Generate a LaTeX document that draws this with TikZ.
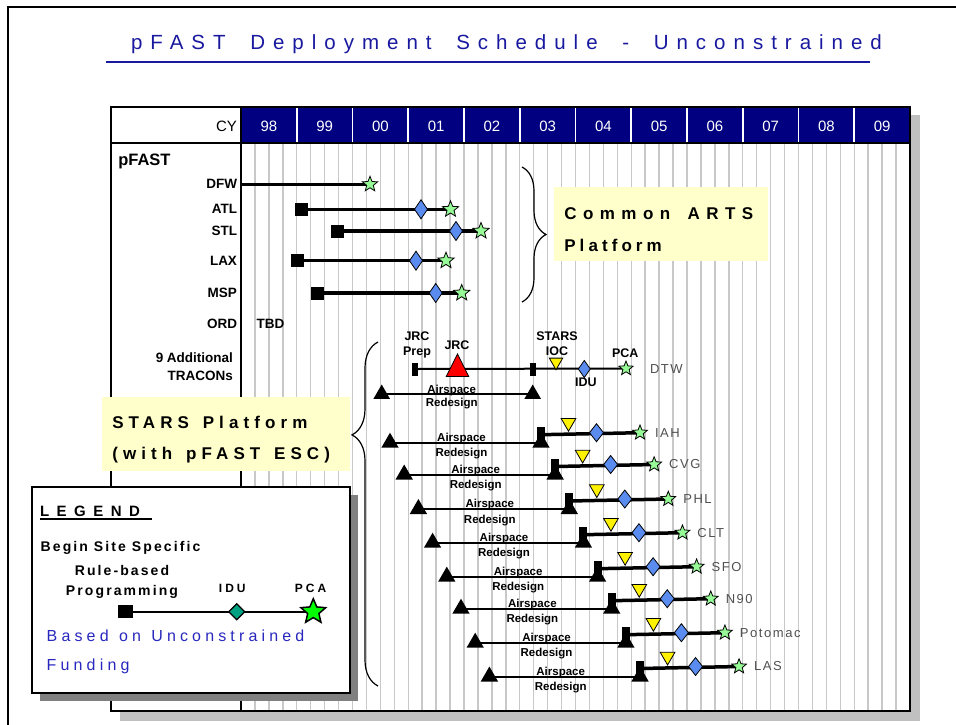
\documentclass[tikz,border=0pt]{standalone}
\usepackage{fontspec}
\setmainfont{Liberation Sans}
\newfontfamily\ttlfont[LetterSpace=39,WordSpace=1.8]{Liberation Sans}
\newfontfamily\boxfont[LetterSpace=30,WordSpace=1.4]{Liberation Sans}
\newfontfamily\artsfont[LetterSpace=38,WordSpace=1.55]{Liberation Sans}
\newfontfamily\artsfontb[LetterSpace=24]{Liberation Sans}
\newfontfamily\legfont[LetterSpace=50]{Liberation Sans}
\newfontfamily\smallls[LetterSpace=12]{Liberation Sans}
\newfontfamily\legls[LetterSpace=15]{Liberation Sans}
\newfontfamily\midls[LetterSpace=26,WordSpace=1.2]{Liberation Sans}
\newfontfamily\pcals[LetterSpace=25]{Liberation Sans}
\usetikzlibrary{shapes.geometric,decorations.pathreplacing}
\newcommand\fsz[1]{\fontsize{#1}{#1}\selectfont}
\definecolor{navyhdr}{RGB}{0,0,128}
\definecolor{titleblue}{RGB}{25,25,160}
\definecolor{gridgray}{RGB}{200,200,200}
\definecolor{shadowgray}{RGB}{192,192,192}
\definecolor{leggray}{RGB}{128,128,128}
\definecolor{boxyellow}{RGB}{255,255,204}
\definecolor{diablue}{RGB}{90,140,240}
\definecolor{stargreen}{RGB}{150,250,150}
\definecolor{legteal}{RGB}{0,160,130}
\definecolor{leggreen}{RGB}{0,255,0}
\definecolor{fundblue}{RGB}{40,40,190}
\definecolor{sitegray}{RGB}{80,80,80}
\pgfdeclarelayer{bg}
\pgfdeclarelayer{mid}
\pgfsetlayers{bg,mid,main}
\begin{document}
\begin{tikzpicture}[x=1pt,y=-1pt,
  every node/.style={inner sep=0pt, outer sep=0pt},
  lbl/.style={font=\bfseries\fsz{13.5}, anchor=east},
  sqr/.style={rectangle, fill=black, minimum width=13pt, minimum height=13pt},
  dia/.style={diamond, fill=diablue, draw=black, line width=0.8pt, minimum width=14pt, minimum height=18pt},
  stargn/.style={star, star points=5, star point ratio=2.3, fill=stargreen, draw=black, line width=0.8pt, minimum size=16pt},
  blktri/.style={regular polygon, regular polygon sides=3, fill=black, minimum size=20pt},
  yeltri/.style={regular polygon, regular polygon sides=3, regular polygon rotate=180, fill=yellow, draw=black, line width=0.8pt, minimum size=17pt},
  blkbar/.style={rectangle, fill=black, minimum width=8pt, minimum height=16pt},
  thickbar/.style={line width=3.5pt},
  thinbar/.style={line width=2pt},
  airtxt/.style={font=\bfseries\fsz{11.5}, anchor=base},
  sitelbl/.style={font=\smallls\fsz{13}, text=sitegray, anchor=west},
  mlbl/.style={font=\bfseries\fontsize{12.5}{15}\selectfont, align=center},
  yeartxt/.style={font=\fsz{15}, text=white},
  boxtxt/.style={font=\boxfont\bfseries\fsz{17}, anchor=base west},
  legtxt/.style={font=\legls\bfseries\fsz{14}},
  bracestyle/.style={decorate, line width=1.2pt},
]
\useasboundingbox (0,0) rectangle (956,724);
\begin{pgfonlayer}{bg}
\fill[white] (0,0) rectangle (956,724);
\draw[line width=2pt] (960,7) -- (7.7,7) -- (7.7,730);
\fill[shadowgray] (120,115) rectangle (920,721);
\fill[white] (111,107) rectangle (910,711);
\fill[navyhdr] (241,107) rectangle (910,143);
\foreach \k in {1,...,47} \draw[gridgray, line width=1.4pt] ({241+\k*13.9375},143) -- ({241+\k*13.9375},711);
\foreach \k in {1,...,11} \draw[white, line width=1.6pt] ({241+\k*55.75},107) -- ({241+\k*55.75},143);
\draw[line width=2pt] (111,107) rectangle (910,711);
\draw[line width=2pt] (111,143) -- (910,143) (241,107) -- (241,711);
\fill[boxyellow] (554,187) rectangle (768,261);
\fill[boxyellow] (102,397) rectangle (350,471);
\fill[leggray] (40,495) rectangle (358,701);
\draw[line width=2pt, fill=white] (32,487) rectangle (350,693);
\end{pgfonlayer}

% title
\node[font=\ttlfont\fsz{20.5}, text=titleblue, anchor=base west] (title) at (131,49) {pFAST Deployment Schedule - Unconstrained};
\draw[titleblue, line width=2.5pt] (106,62) -- (869.5,62);

% header
\node[font=\fsz{15}, anchor=east] (cy) at (237,126.5) {CY};
\foreach \k/\yr in {0/98,1/99,2/00,3/01,4/02,5/03,6/04,7/05,8/06,9/07,10/08,11/09}
  \node[yeartxt] (yr\k) at ({241+\k*55.75+27.9},126.5) {\yr};

% left labels
\node[font=\bfseries\fsz{16.5}, anchor=west] (pfast) at (118.3,161) {pFAST};
\node[lbl] (ldfw) at (237,184.3) {DFW};
\node[lbl] (latl) at (237,209.3) {ATL};
\node[lbl] (lstl) at (237,231) {STL};
\node[lbl] (llax) at (237,260.7) {LAX};
\node[lbl] (lmsp) at (237,292.5) {MSP};
\node[lbl] (lord) at (237,324) {ORD};
\node[font=\bfseries\fsz{13.5}, anchor=west] (tbd) at (256.7,324) {TBD};
\node[font=\bfseries\fontsize{13.5}{17.7}\selectfont, align=right, anchor=east] (ltracon) at (233,367) {9 Additional\\TRACONs};

% Common ARTS rows
\coordinate (dfwstart) at (242,184.3);
\node[stargn] (dfwpca) at (370,184.3) {};
\node[sqr] (atlbeg) at (301.7,209.3) {};
\node[dia, minimum width=13pt, minimum height=19pt] (atlidu) at (421,209.3) {};
\node[stargn, minimum size=17pt] (atlpca) at (450.5,209.3) {};
\node[sqr] (stlbeg) at (337.7,231) {};
\node[dia, minimum width=13pt, minimum height=19pt] (stlidu) at (456,231) {};
\node[stargn, minimum size=17pt] (stlpca) at (481,231) {};
\node[sqr] (laxbeg) at (297.7,260.7) {};
\node[dia, minimum width=13pt, minimum height=19pt] (laxidu) at (416,260.7) {};
\node[stargn, minimum size=17pt] (laxpca) at (446,260.7) {};
\node[sqr] (mspbeg) at (317.7,293) {};
\node[dia, minimum width=13pt, minimum height=19pt] (mspidu) at (435.7,293) {};
\node[stargn, minimum size=17pt] (msppca) at (461.7,293) {};
\begin{pgfonlayer}{mid}
\draw[line width=3.2pt] (dfwstart) -- (dfwpca.center);
\draw[line width=3.2pt] (atlbeg.center) -- (atlpca.center);
\draw[line width=3.2pt] (stlbeg.center) -- (stlpca.center);
\draw[line width=3.2pt] (laxbeg.center) -- (laxpca.center);
\draw[line width=3.2pt] (mspbeg.center) -- (msppca.center);
\end{pgfonlayer}

% brace 1 and box
\draw[bracestyle, decoration={brace, amplitude=24pt}] (522,167) -- (522,302);
\node[font=\artsfont\bfseries\fsz{17}, anchor=base west] (arts1) at (564.3,219) {Common ARTS};
\node[font=\artsfontb\bfseries\fsz{17}, anchor=base west] (arts2) at (564.3,251.3) {Platform};

% brace 2 and STARS box
\draw[bracestyle, decoration={brace, amplitude=26pt, mirror, aspect=0.27}] (378,342) -- (378,686);
\node[boxtxt] (stars1) at (112.3,428) {STARS Platform};
\node[boxtxt] (stars2) at (112.3,459) {(with pFAST ESC)};

% DTW
\node[rectangle, fill=black, minimum width=6pt, minimum height=13pt] (jrcprep) at (415,369) {};
\node[rectangle, fill=black, minimum width=6pt, minimum height=13pt] (jrcend) at (533,369) {};
\node[regular polygon, regular polygon sides=3, fill=red, draw=black, line width=0.8pt, minimum size=26pt, yscale=1.15] (jrc) at (457.5,369) {};
\node[yeltri, minimum size=15.5pt] (ioc) at (556,362) {};
\node[dia, minimum width=12pt, minimum height=17pt] (dtwidu) at (584.3,369) {};
\node[stargn, minimum size=15pt] (dtwpca) at (626,368.5) {};
\node[sitelbl] (dtw) at (650,369) {DTW};
\node[mlbl] (lprep) at (417,345) {JRC\\Prep};
\node[mlbl] (ljrc) at (457,345) {JRC};
\node[mlbl] (lioc) at (557,343.7) {STARS\\IOC};
\node[mlbl] (lidu) at (586,382) {IDU};
\node[mlbl] (lpca) at (625.3,352.7) {PCA};
\node[blktri, minimum size=19pt] (dtwal) at (381.7,394) {};
\node[blktri, minimum size=19pt] (dtwar) at (532.7,394) {};
\node[airtxt] (dtwair) at (451.7,393) {Airspace};
\node[airtxt] (dtwred) at (451.7,406.7) {Redesign};
\begin{pgfonlayer}{mid}
\draw[thinbar] (jrcprep.center) -- (dtwpca.center);
\draw[thinbar] (dtwal.center) -- (dtwar.center);
\end{pgfonlayer}

% STARS rows
\foreach \i/\ty/\lab in {0/432.7/IAH,1/464.5/CVG,2/499/PHL,3/532.7/CLT,4/566.7/SFO,5/598.7/N90,6/632.7/Potomac,7/666.5/LAS} {
  \pgfmathsetmacro\rx{541+14.15*\i}
  \pgfmathsetmacro\lx{390+14.2*\i}
  \pgfmathsetmacro\ly{\ty+10}
  \pgfmathsetmacro\mx{(\rx+\lx)/2-4}
  \node[blktri] (al\i) at (\lx,\ly) {};
  \node[blktri] (ar\i) at (\rx,\ly) {};
  \node[blkbar] (rb\i) at (\rx,\ty+2) {};
  \node[yeltri] (yt\i) at (\rx+27.5,\ty-10) {};
  \node[dia] (di\i) at (\rx+55.5,\ty) {};
  \node[stargn, minimum size=15.5pt] (sp\i) at (\rx+99,\ty) {};
  \node[sitelbl] (sl\i) at (\rx+114,\ty) {\lab};
  \node[airtxt] (at\i) at (\mx,\ly-1.5) {Airspace};
  \node[airtxt] (rt\i) at (\mx,\ly+14) {Redesign};
  \begin{pgfonlayer}{mid}
  \draw[thinbar] (al\i.center) -- (ar\i.center);
  \draw[thickbar] (rb\i.center) -- (sp\i.center);
  \end{pgfonlayer}
}

% legend
\node[font=\legfont\bfseries\fsz{15}, anchor=base west] (legtitle) at (40,516.5) {LEGEND};
\draw[line width=1.5pt] (40,519) -- (151.7,519);
\node[legtxt] (lg1) at (120.5,548.3) {Begin Site Specific};
\node[legtxt] (lg2) at (122,570.7) {Rule-based};
\node[legtxt] (lg3) at (122,592.3) {Programming};
\node[font=\pcals\bfseries\fsz{12}] (lgidu) at (232.3,588.3) {IDU};
\node[font=\pcals\bfseries\fsz{12}] (lgpca) at (310.5,588.3) {PCA};
\node[sqr, minimum width=15pt] (legbeg) at (125,611.7) {};
\node[diamond, fill=legteal, draw=black, line width=1.2pt, minimum size=16pt] (legidu) at (236.7,611.7) {};
\node[star, star points=5, star point ratio=2.2, fill=leggreen, draw=black, line width=1.5pt, minimum size=26pt] (legpca) at (313.3,611.7) {};
\begin{pgfonlayer}{mid}
\draw[line width=2pt] (legbeg.center) -- (legpca.center);
\end{pgfonlayer}
\node[font=\midls\fsz{16}, text=fundblue, anchor=base west] (fund1) at (46.7,641.5) {Based on Unconstrained};
\node[font=\midls\fsz{16}, text=fundblue, anchor=base west] (fund2) at (46.7,670.8) {Funding};
\end{tikzpicture}
\end{document}
